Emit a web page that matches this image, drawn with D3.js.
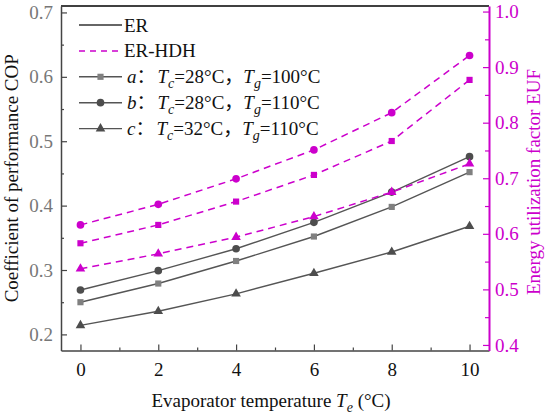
<!DOCTYPE html>
<html>
<head>
<meta charset="utf-8">
<script src="https://cdn.jsdelivr.net/npm/d3@7"></script>
<style>
  body { margin: 0; background: #fff; }
  svg { font-family: "Liberation Serif", "Times New Roman", serif; }
</style>
</head>
<body>
<svg width="550" height="417"></svg>
<script>
// evaporator temperature Te (°C)
const temps = [0, 2, 4, 6, 8, 10];

// COP (left axis), solid grey lines
const copA = [0.250, 0.279, 0.314, 0.352, 0.398, 0.452];
const copB = [0.269, 0.299, 0.333, 0.374, 0.421, 0.476];
const copC = [0.214, 0.236, 0.263, 0.295, 0.328, 0.368];

// EUF (right axis), dashed magenta lines
const eufA = [0.583, 0.616, 0.658, 0.706, 0.767, 0.877];
const eufB = [0.616, 0.653, 0.699, 0.751, 0.818, 0.921];
const eufC = [0.537, 0.564, 0.594, 0.631, 0.675, 0.726];

const xTicks = [0, 2, 4, 6, 8, 10];
const xMinor = [1, 3, 5, 7, 9];
const copTicks = [0.2, 0.3, 0.4, 0.5, 0.6, 0.7];
const copMinor = [0.25, 0.35, 0.45, 0.55, 0.65];
const eufTicks = [0.4, 0.5, 0.6, 0.7, 0.8, 0.9, 1.0];
const eufMinor = [0.45, 0.55, 0.65, 0.75, 0.85, 0.95];

const cases = [
  { key: "a", tc: "28", tg: "100", shape: d3.symbolSquare, size: 38, fill: "#808080" },
  { key: "b", tc: "28", tg: "110", shape: d3.symbolCircle, size: 46, fill: "#4d4d4d" },
  { key: "c", tc: "32", tg: "110", shape: d3.symbolTriangle, size: 40, fill: "#4d4d4d" }
];
const copSeries = [copA, copB, copC];
const eufSeries = [eufA, eufB, eufC];

const svg = d3.select("svg");
const plot = { left: 61, right: 489, top: 6, bottom: 350.5 };
const magenta = "#cc00cc";
const grey = "#555555";
const fontSize = 19;
const cjk = "Noto Sans CJK SC";

const x = d3.scaleLinear().domain([-0.5, 10.5]).range([plot.left, plot.right]);
const yL = d3.scaleLinear().domain([0.175, 0.71]).range([plot.bottom, plot.top]);
const yR = d3.scaleLinear().domain([0.39, 1.01]).range([plot.bottom, plot.top]);

// frame top line
svg.append("line")
  .attr("x1", plot.left).attr("x2", plot.right)
  .attr("y1", plot.top).attr("y2", plot.top)
  .attr("stroke", "#000").attr("stroke-width", 1.5);

function styleAxis(g, color, textColor) {
  g.select(".domain").attr("stroke", color).attr("stroke-width", 1.5);
  g.selectAll(".tick line").attr("stroke", color).attr("stroke-width", 1.2);
  g.selectAll(".tick text")
    .attr("fill", textColor)
    .style("font-size", fontSize + "px")
    .style("font-family", "Liberation Serif, serif");
}

// bottom axis
const gx = svg.append("g")
  .attr("transform", `translate(0,${plot.bottom})`)
  .call(d3.axisBottom(x).tickValues(xTicks).tickSizeInner(-6).tickSizeOuter(0).tickPadding(12).tickFormat(d3.format("d")));
styleAxis(gx, "#444", "#111");
svg.append("g")
  .attr("transform", `translate(0,${plot.bottom})`)
  .call(d3.axisBottom(x).tickValues(xMinor).tickSize(-3).tickFormat(""))
  .call(g => g.select(".domain").remove())
  .call(g => g.selectAll(".tick line").attr("stroke", "#444").attr("stroke-width", 1.2));

// left axis
const gl = svg.append("g")
  .attr("transform", `translate(${plot.left},0)`)
  .call(d3.axisLeft(yL).tickValues(copTicks).tickSizeInner(-6).tickSizeOuter(0).tickPadding(8).tickFormat(d3.format(".1f")));
styleAxis(gl, "#444", "#777");
svg.append("g")
  .attr("transform", `translate(${plot.left},0)`)
  .call(d3.axisLeft(yL).tickValues(copMinor).tickSize(-3).tickFormat(""))
  .call(g => g.select(".domain").remove())
  .call(g => g.selectAll(".tick line").attr("stroke", "#444").attr("stroke-width", 1.2));

// right axis
const gr = svg.append("g")
  .attr("transform", `translate(${plot.right},0)`)
  .call(d3.axisRight(yR).tickValues(eufTicks).tickSizeInner(-6).tickSizeOuter(0).tickPadding(6).tickFormat(d3.format(".1f")));
styleAxis(gr, magenta, magenta);
gr.select(".domain").attr("stroke-width", 2);
svg.append("g")
  .attr("transform", `translate(${plot.right},0)`)
  .call(d3.axisRight(yR).tickValues(eufMinor).tickSize(-4).tickFormat(""))
  .call(g => g.select(".domain").remove())
  .call(g => g.selectAll(".tick line").attr("stroke", magenta).attr("stroke-width", 1.2));

// COP lines
copSeries.forEach((vals, i) => {
  const c = cases[i];
  const pts = temps.map((t, j) => [t, vals[j]]);
  svg.append("path")
    .datum(pts)
    .attr("fill", "none")
    .attr("stroke", grey)
    .attr("stroke-width", 1.4)
    .attr("d", d3.line().x(d => x(d[0])).y(d => yL(d[1])));
  svg.selectAll(null)
    .data(pts)
    .enter()
    .append("path")
    .attr("transform", d => `translate(${x(d[0])},${yL(d[1])})`)
    .attr("d", d3.symbol().type(c.shape).size(c.size))
    .attr("fill", c.fill);
});

// EUF lines
eufSeries.forEach((vals, i) => {
  const c = cases[i];
  const pts = temps.map((t, j) => [t, vals[j]]);
  svg.append("path")
    .datum(pts)
    .attr("fill", "none")
    .attr("stroke", magenta)
    .attr("stroke-width", 1.5)
    .attr("stroke-dasharray", "7,5")
    .attr("d", d3.line().x(d => x(d[0])).y(d => yR(d[1])));
  svg.selectAll(null)
    .data(pts)
    .enter()
    .append("path")
    .attr("transform", d => `translate(${x(d[0])},${yR(d[1])})`)
    .attr("d", d3.symbol().type(c.shape).size(c.size))
    .attr("fill", magenta);
});

// legend
const legend = svg.append("g").style("font-size", fontSize + "px").attr("fill", "#111");
const rowY = i => 25 + i * 25.9;
const lx0 = 79, lx1 = 122, tx = 124;

legend.append("line")
  .attr("x1", lx0).attr("x2", lx1).attr("y1", rowY(0)).attr("y2", rowY(0))
  .attr("stroke", "#333").attr("stroke-width", 1.4);
legend.append("text").attr("x", tx).attr("y", rowY(0) + 6.5).text("ER");

legend.append("line")
  .attr("x1", lx0).attr("x2", lx1).attr("y1", rowY(1)).attr("y2", rowY(1))
  .attr("stroke", magenta).attr("stroke-width", 1.5).attr("stroke-dasharray", "6,5");
legend.append("text").attr("x", tx).attr("y", rowY(1) + 6.5).text("ER-HDH");

cases.forEach((c, i) => {
  const yy = rowY(i + 2);
  legend.append("line")
    .attr("x1", lx0).attr("x2", lx1).attr("y1", yy).attr("y2", yy)
    .attr("stroke", grey).attr("stroke-width", 1.4);
  legend.append("path")
    .attr("transform", `translate(${(lx0 + lx1) / 2},${yy})`)
    .attr("d", d3.symbol().type(c.shape).size(c.size))
    .attr("fill", c.fill);
  const t = legend.append("text").attr("x", tx).attr("y", yy + 6.5);
  t.append("tspan").attr("dx", 3).style("font-style", "italic").text(c.key);
  t.append("tspan").style("font-family", cjk).text("：");
  t.append("tspan").attr("dx", 2).style("font-style", "italic").text("T");
  t.append("tspan").attr("dy", 5).style("font-style", "italic").style("font-size", "14px").text("c");
  t.append("tspan").attr("dy", -5).text("=" + c.tc + "°C");
  t.append("tspan").style("font-family", cjk).text("，");
  t.append("tspan").style("font-style", "italic").text("T");
  t.append("tspan").attr("dy", 5).style("font-style", "italic").style("font-size", "14px").text("g");
  t.append("tspan").attr("dy", -5).text("=" + c.tg + "°C");
});

// axis titles
const xt = svg.append("text")
  .attr("x", 271).attr("y", 407)
  .attr("text-anchor", "middle")
  .style("font-size", fontSize + "px")
  .attr("fill", "#111");
xt.append("tspan").text("Evaporator temperature ");
xt.append("tspan").style("font-style", "italic").text("T");
xt.append("tspan").attr("dy", 5).style("font-style", "italic").style("font-size", "14px").text("e");
xt.append("tspan").attr("dy", -5).text(" (°C)");

svg.append("text")
  .attr("transform", "rotate(-90)")
  .attr("x", -(plot.top + plot.bottom) / 2)
  .attr("y", 18)
  .attr("text-anchor", "middle")
  .style("font-size", fontSize + "px")
  .attr("fill", "#111")
  .text("Coefficient of performance COP");

svg.append("text")
  .attr("transform", "rotate(-90)")
  .attr("x", -182)
  .attr("y", 540)
  .attr("text-anchor", "middle")
  .style("font-size", fontSize + "px")
  .attr("fill", magenta)
  .text("Energy utilization factor EUF");
</script>
</body>
</html>
